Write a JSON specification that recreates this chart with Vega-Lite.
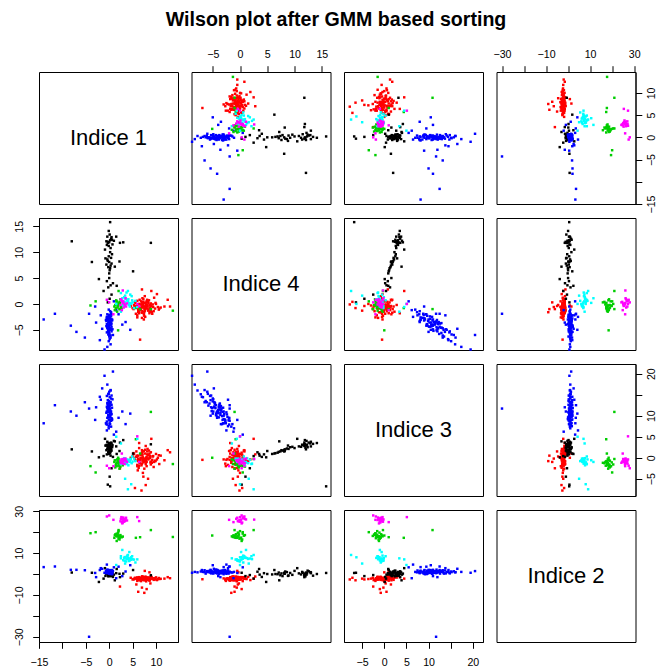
{
"$schema":"https://vega.github.io/schema/vega-lite/v6.json",
"padding":{"left":14,"top":9,"right":0,"bottom":0},
"background":"white",
"title":{"text":"Wilson plot after GMM based sorting","fontSize":19.6,"font":"Liberation Sans","fontWeight":"bold","anchor":"middle","frame":"bounds","offset":19,"color":"#000"},
"columns":4,
"spacing":{"row":14,"column":13.5},
"bounds":"flush",
"resolve":{"scale":{"x":"independent","y":"independent"},"axis":{"x":"independent","y":"independent"}},
"config":{"view":{"stroke":"#000","strokeWidth":1},"font":"Liberation Sans","axis":{"grid":false,"domainColor":"#000","tickColor":"#000","tickSize":6.3,"labelFontSize":10.6,"labelFont":"Liberation Sans","labelColor":"#000","labelOverlap":false,"labelFlush":false},"text":{"font":"Liberation Sans"}},
"data":{"values":[
{"g":"r","a":7.2,"d":-0.5,"c":0.1,"b":-2.0},{"g":"r","a":6.5,"d":-0.9,"c":-0.6,"b":-2.4},{"g":"r","a":8.1,"d":-0.2,"c":0.8,"b":-1.7},{"g":"r","a":7.6,"d":-1.3,"c":-0.2,"b":-2.6},{"g":"r","a":5.9,"d":-0.4,"c":0.5,"b":-1.9},{"g":"r","a":8.8,"d":-0.7,"c":-1.1,"b":-2.2},{"g":"r","a":7.0,"d":0.3,"c":1.2,"b":-1.5},{"g":"r","a":6.2,"d":-1.6,"c":-0.8,"b":-2.8},{"g":"r","a":9.3,"d":-0.1,"c":0.3,"b":-2.1},{"g":"r","a":7.8,"d":-0.8,"c":-1.5,"b":-1.3},
{"g":"r","a":6.8,"d":-1.1,"c":0.9,"b":-2.5},{"g":"r","a":8.4,"d":0.1,"c":-0.4,"b":-1.8},{"g":"r","a":5.4,"d":-0.6,"c":-0.1,"b":-2.3},{"g":"r","a":7.4,"d":-2.0,"c":1.6,"b":-3.0},{"g":"r","a":9.8,"d":-0.9,"c":-0.7,"b":-2.0},{"g":"r","a":6.0,"d":0.6,"c":0.2,"b":-1.6},{"g":"r","a":8.0,"d":-0.3,"c":-2.0,"b":-2.7},{"g":"r","a":7.1,"d":-1.4,"c":0.6,"b":-1.2},{"g":"r","a":10.4,"d":-0.6,"c":0.0,"b":-2.4},{"g":"r","a":6.6,"d":-0.2,"c":-1.3,"b":-2.1},
{"g":"r","a":8.6,"d":-1.8,"c":1.0,"b":-3.2},{"g":"r","a":7.3,"d":0.9,"c":-0.5,"b":-1.9},{"g":"r","a":5.0,"d":-0.8,"c":0.4,"b":-2.6},{"g":"r","a":9.0,"d":-0.4,"c":-0.9,"b":-1.4},{"g":"r","a":7.7,"d":-1.0,"c":1.9,"b":-2.2},{"g":"r","a":6.3,"d":-0.5,"c":-2.4,"b":-2.9},{"g":"r","a":8.3,"d":0.4,"c":0.7,"b":-1.7},{"g":"r","a":7.5,"d":-2.3,"c":-0.3,"b":-2.0},{"g":"r","a":11.0,"d":-0.7,"c":0.5,"b":-2.3},{"g":"r","a":6.9,"d":-0.1,"c":-1.8,"b":-2.5},
{"g":"r","a":8.9,"d":-1.2,"c":1.3,"b":-1.1},{"g":"r","a":5.6,"d":0.2,"c":-0.6,"b":-2.0},{"g":"r","a":7.9,"d":-0.6,"c":0.0,"b":-3.5},{"g":"r","a":9.6,"d":1.2,"c":-1.0,"b":-2.4},{"g":"r","a":6.4,"d":-1.5,"c":2.3,"b":-1.8},{"g":"r","a":8.2,"d":-0.9,"c":-0.2,"b":-2.1},{"g":"r","a":7.0,"d":-2.7,"c":-1.4,"b":-2.7},{"g":"r","a":10.0,"d":0.0,"c":0.9,"b":-1.6},{"g":"r","a":6.1,"d":-0.3,"c":-3.0,"b":-2.2},{"g":"r","a":8.7,"d":-0.8,"c":0.4,"b":-2.9},
{"g":"r","a":7.6,"d":1.5,"c":-0.8,"b":-1.4},{"g":"r","a":5.2,"d":-1.0,"c":1.1,"b":-2.4},{"g":"r","a":9.2,"d":-1.9,"c":-0.5,"b":-2.0},{"g":"r","a":7.3,"d":-0.4,"c":-4.5,"b":-2.6},{"g":"r","a":8.5,"d":0.7,"c":1.7,"b":-1.9},{"g":"r","a":6.7,"d":-1.2,"c":-0.1,"b":-3.1},{"g":"r","a":11.8,"d":-0.5,"c":-0.6,"b":-2.2},{"g":"r","a":7.8,"d":-0.2,"c":2.8,"b":-1.7},{"g":"r","a":6.0,"d":-2.2,"c":-1.7,"b":-2.5},{"g":"r","a":8.0,"d":0.5,"c":0.2,"b":-2.0},
{"g":"r","a":9.5,"d":-1.4,"c":-2.2,"b":-2.8},{"g":"r","a":7.1,"d":-0.7,"c":1.4,"b":-1.3},{"g":"r","a":6.5,"d":0.8,"c":-1.2,"b":-2.3},{"g":"r","a":8.4,"d":-1.1,"c":0.6,"b":-2.7},{"g":"r","a":7.4,"d":-3.0,"c":-0.4,"b":-2.1},{"g":"r","a":4.6,"d":-0.4,"c":0.0,"b":-1.8},{"g":"r","a":10.7,"d":-0.9,"c":-1.5,"b":-2.4},{"g":"r","a":7.7,"d":0.2,"c":-0.9,"b":-2.0},
{"g":"r","a":7.9,"d":-0.1,"c":-0.6,"b":-2.3},{"g":"r","a":6.7,"d":-0.7,"c":0.7,"b":-1.9},{"g":"r","a":8.7,"d":-1.5,"c":-0.1,"b":-2.5},{"g":"r","a":7.3,"d":0.4,"c":-1.1,"b":-1.6},{"g":"r","a":9.4,"d":-0.6,"c":0.4,"b":-2.2},{"g":"r","a":6.2,"d":-1.2,"c":-0.3,"b":-2.7},{"g":"r","a":8.1,"d":0.8,"c":1.5,"b":-2.0},{"g":"r","a":7.5,"d":-0.9,"c":-2.6,"b":-1.8},{"g":"r","a":5.7,"d":-1.9,"c":0.2,"b":-2.1},{"g":"r","a":9.9,"d":0.2,"c":-0.8,"b":-2.6},
{"g":"r","a":7.0,"d":-1.7,"c":1.8,"b":-2.4},{"g":"r","a":8.9,"d":0.1,"c":-1.6,"b":-1.5},{"g":"r","a":6.8,"d":0.5,"c":0.0,"b":-3.4},{"g":"r","a":10.6,"d":-1.1,"c":0.6,"b":-1.9},{"g":"r","a":7.7,"d":-2.5,"c":-0.5,"b":-2.2},{"g":"r","a":6.4,"d":0.0,"c":-1.9,"b":-2.0},{"g":"r","a":8.2,"d":-0.5,"c":2.1,"b":-2.8},{"g":"r","a":7.1,"d":1.1,"c":-0.7,"b":-2.3},{"g":"r","a":9.1,"d":-1.6,"c":-1.2,"b":-1.7},{"g":"r","a":5.3,"d":-0.2,"c":0.9,"b":-2.5},
{"g":"r","a":7.0,"d":-0.6,"c":-0.2,"b":-6.5},{"g":"r","a":6.2,"d":-1.0,"c":0.5,"b":-8.5},{"g":"r","a":8.0,"d":0.3,"c":-1.0,"b":-7.2},{"g":"r","a":5.8,"d":-0.4,"c":1.5,"b":-5.0},{"g":"r","a":7.5,"d":-1.6,"c":-0.8,"b":-9.0},{"g":"r","a":8.8,"d":-0.2,"c":0.3,"b":-4.5},{"g":"r","a":6.6,"d":-6.9,"c":-0.5,"b":-2.5},{"g":"r","a":13.0,"d":-0.5,"c":1.3,"b":-2.0},{"g":"r","a":12.5,"d":0.8,"c":1.8,"b":-1.5},{"g":"r","a":6.9,"d":-0.1,"c":-7.8,"b":-2.6},
{"g":"r","a":7.8,"d":-0.8,"c":-6.5,"b":-3.0},{"g":"r","a":5.5,"d":0.4,"c":-7.2,"b":-1.8},{"g":"r","a":8.3,"d":-1.3,"c":-5.0,"b":-2.2},{"g":"r","a":7.2,"d":0.0,"c":-3.6,"b":-2.4},{"g":"r","a":6.4,"d":-1.8,"c":3.5,"b":-1.5},{"g":"r","a":9.0,"d":2.5,"c":4.5,"b":-2.2},{"g":"r","a":2.3,"d":-1.0,"c":-2.5,"b":-6.0},{"g":"r","a":10.2,"d":1.9,"c":-0.4,"b":-2.9},{"g":"r","a":7.0,"d":2.8,"c":0.8,"b":-1.2},{"g":"r","a":6.0,"d":-2.6,"c":-2.0,"b":-3.3},
{"g":"r","a":8.6,"d":-0.3,"c":0.0,"b":0.8},{"g":"r","a":7.6,"d":-0.5,"c":1.0,"b":1.5},
{"g":"k","a":0.2,"d":12.3,"c":3.1,"b":0.4},{"g":"k","a":-0.3,"d":11.8,"c":2.8,"b":-0.5},{"g":"k","a":0.5,"d":12.9,"c":3.4,"b":0.9},{"g":"k","a":-0.1,"d":11.2,"c":2.6,"b":-0.2},{"g":"k","a":0.4,"d":12.6,"c":3.6,"b":1.3},{"g":"k","a":-0.6,"d":12.1,"c":2.9,"b":0.1},{"g":"k","a":0.1,"d":13.4,"c":3.3,"b":-0.8},{"g":"k","a":0.7,"d":11.5,"c":3.0,"b":0.6},{"g":"k","a":-0.2,"d":12.0,"c":2.4,"b":-1.1},{"g":"k","a":0.3,"d":10.8,"c":2.7,"b":0.3},
{"g":"k","a":-0.4,"d":13.0,"c":3.8,"b":0.8},{"g":"k","a":0.0,"d":11.9,"c":3.2,"b":-0.4},{"g":"k","a":0.6,"d":12.4,"c":2.5,"b":1.6},{"g":"k","a":-0.1,"d":14.1,"c":3.5,"b":0.0},{"g":"k","a":1.0,"d":12.2,"c":4.0,"b":-0.3},{"g":"k","a":-0.5,"d":11.4,"c":3.1,"b":1.0},{"g":"k","a":0.2,"d":15.8,"c":-6.8,"b":0.5},{"g":"k","a":2.3,"d":11.8,"c":3.6,"b":-1.5},{"g":"k","a":3.0,"d":11.9,"c":4.2,"b":0.2},{"g":"k","a":-8.0,"d":12.1,"c":2.0,"b":0.7},
{"g":"k","a":8.9,"d":11.8,"c":3.2,"b":-0.6},{"g":"k","a":1.5,"d":13.0,"c":2.7,"b":0.4},{"g":"k","a":0.0,"d":8.1,"c":1.9,"b":0.2},{"g":"k","a":0.3,"d":7.4,"c":1.5,"b":-0.6},{"g":"k","a":-0.4,"d":8.6,"c":2.2,"b":0.9},{"g":"k","a":0.2,"d":6.9,"c":1.2,"b":-0.1},{"g":"k","a":-0.1,"d":9.2,"c":2.5,"b":0.5},{"g":"k","a":0.5,"d":7.8,"c":1.7,"b":-1.0},{"g":"k","a":-0.3,"d":8.3,"c":2.0,"b":1.2},{"g":"k","a":0.1,"d":6.5,"c":1.1,"b":0.0},
{"g":"k","a":0.6,"d":9.6,"c":2.6,"b":-0.4},{"g":"k","a":-0.2,"d":7.1,"c":1.4,"b":0.7},{"g":"k","a":0.4,"d":8.9,"c":2.1,"b":-0.7},{"g":"k","a":-0.6,"d":7.6,"c":1.8,"b":0.3},{"g":"k","a":0.2,"d":10.0,"c":2.3,"b":1.5},{"g":"k","a":0.0,"d":5.9,"c":0.9,"b":-0.2},{"g":"k","a":2.2,"d":8.2,"c":1.6,"b":0.1},{"g":"k","a":-3.7,"d":8.1,"c":1.5,"b":0.6},{"g":"k","a":5.1,"d":6.3,"c":1.0,"b":1.9},{"g":"k","a":-0.8,"d":8.8,"c":2.9,"b":-0.9},
{"g":"k","a":-0.5,"d":4.4,"c":0.8,"b":0.4},{"g":"k","a":0.3,"d":3.6,"c":0.5,"b":-0.3},{"g":"k","a":-0.2,"d":3.2,"c":1.3,"b":1.1},{"g":"k","a":0.8,"d":4.0,"c":0.2,"b":-1.4},{"g":"k","a":1.6,"d":3.5,"c":0.9,"b":2.4},{"g":"k","a":-1.2,"d":2.5,"c":0.4,"b":-2.2},{"g":"k","a":0.0,"d":5.0,"c":1.6,"b":0.0},{"g":"k","a":-2.2,"d":4.8,"c":0.1,"b":-3.8},{"g":"k","a":1.2,"d":7.2,"c":3.9,"b":-3.0},{"g":"k","a":-0.9,"d":10.5,"c":4.5,"b":2.8},
{"g":"k","a":0.1,"d":1.0,"c":-4.5,"b":-1.0},{"g":"k","a":-0.3,"d":0.3,"c":-6.4,"b":0.6},{"g":"k","a":0.5,"d":1.8,"c":-2.5,"b":-0.5},
{"g":"b","a":0.1,"d":-3.5,"c":11.4,"b":1.1},{"g":"b","a":-0.4,"d":-4.2,"c":9.5,"b":0.6},{"g":"b","a":0.3,"d":-2.9,"c":10.4,"b":1.4},{"g":"b","a":-0.2,"d":-5.1,"c":11.8,"b":0.9},{"g":"b","a":0.5,"d":-3.8,"c":12.6,"b":0.2},{"g":"b","a":-0.1,"d":-2.2,"c":7.5,"b":1.7},{"g":"b","a":0.2,"d":-4.7,"c":13.2,"b":1.0},{"g":"b","a":-0.6,"d":-3.3,"c":8.0,"b":0.4},{"g":"b","a":0.0,"d":-6.0,"c":15.7,"b":1.3},{"g":"b","a":0.4,"d":-1.6,"c":7.4,"b":0.8},
{"g":"b","a":-0.3,"d":-4.4,"c":12.5,"b":1.9},{"g":"b","a":0.6,"d":-3.0,"c":9.2,"b":-0.1},{"g":"b","a":-0.5,"d":-5.5,"c":14.7,"b":0.7},{"g":"b","a":0.1,"d":-2.6,"c":8.2,"b":1.2},{"g":"b","a":0.2,"d":-4.0,"c":10.6,"b":0.5},{"g":"b","a":-0.2,"d":-3.6,"c":10.2,"b":1.5},{"g":"b","a":0.3,"d":-6.5,"c":16.1,"b":0.9},{"g":"b","a":-0.1,"d":-1.1,"c":7.0,"b":1.0},{"g":"b","a":0.7,"d":-4.9,"c":13.9,"b":0.3},{"g":"b","a":-0.7,"d":-3.1,"c":8.2,"b":1.6},
{"g":"b","a":0.0,"d":-5.8,"c":12.4,"b":1.1},{"g":"b","a":0.4,"d":-2.4,"c":10.3,"b":0.6},{"g":"b","a":-0.4,"d":-4.5,"c":11.8,"b":2.1},{"g":"b","a":0.2,"d":-3.9,"c":9.6,"b":0.0},{"g":"b","a":-0.1,"d":-7.2,"c":15.1,"b":1.2},{"g":"b","a":0.5,"d":-2.0,"c":9.4,"b":0.8},{"g":"b","a":-0.2,"d":-5.2,"c":11.1,"b":1.4},{"g":"b","a":0.1,"d":-3.4,"c":11.7,"b":0.4},{"g":"b","a":0.3,"d":-4.1,"c":10.9,"b":1.8},{"g":"b","a":-0.5,"d":-2.7,"c":8.6,"b":0.7},
{"g":"b","a":0.0,"d":-6.3,"c":13.5,"b":0.2},{"g":"b","a":0.2,"d":-3.7,"c":12.9,"b":1.3},{"g":"b","a":-0.3,"d":-4.8,"c":12.0,"b":0.9},{"g":"b","a":0.4,"d":-1.9,"c":8.8,"b":1.1},{"g":"b","a":-0.1,"d":-5.0,"c":13.4,"b":0.5},{"g":"b","a":0.6,"d":-3.2,"c":9.0,"b":1.6},{"g":"b","a":-0.6,"d":-4.3,"c":10.7,"b":1.0},{"g":"b","a":0.1,"d":-2.5,"c":10.8,"b":0.1},{"g":"b","a":0.0,"d":-5.6,"c":12.9,"b":1.5},{"g":"b","a":-0.2,"d":-3.0,"c":10.0,"b":0.9},
{"g":"b","a":0.3,"d":-7.8,"c":16.0,"b":0.8},{"g":"b","a":-0.4,"d":-4.6,"c":13.0,"b":1.2},{"g":"b","a":0.2,"d":-3.5,"c":11.2,"b":0.6},{"g":"b","a":-0.1,"d":-2.8,"c":9.1,"b":1.9},{"g":"b","a":0.5,"d":-5.3,"c":14.8,"b":0.3},{"g":"b","a":-0.3,"d":-4.0,"c":11.4,"b":1.4},{"g":"b","a":0.1,"d":-6.8,"c":14.4,"b":1.0},{"g":"b","a":0.2,"d":-1.4,"c":8.0,"b":0.7},{"g":"b","a":-0.5,"d":-3.9,"c":12.1,"b":1.2},{"g":"b","a":0.4,"d":-4.9,"c":11.0,"b":0.4},
{"g":"b","a":0.0,"d":-2.3,"c":9.7,"b":1.6},{"g":"b","a":-0.2,"d":-5.9,"c":15.2,"b":0.9},{"g":"b","a":0.3,"d":-3.6,"c":10.6,"b":1.1},{"g":"b","a":-0.1,"d":-4.4,"c":10.1,"b":0.5},{"g":"b","a":0.6,"d":-3.1,"c":11.9,"b":1.3},{"g":"b","a":-0.4,"d":-8.3,"c":17.4,"b":1.0},{"g":"b","a":0.1,"d":-2.1,"c":8.9,"b":0.2},{"g":"b","a":-0.3,"d":-5.4,"c":13.7,"b":1.7},{"g":"b","a":0.2,"d":-3.3,"c":9.9,"b":0.8},{"g":"b","a":0.0,"d":-4.7,"c":12.2,"b":1.0},
{"g":"b","a":0.2,"d":-3.8,"c":11.5,"b":0.8},{"g":"b","a":-0.3,"d":-4.6,"c":12.8,"b":1.2},{"g":"b","a":0.1,"d":-2.7,"c":8.9,"b":0.6},{"g":"b","a":0.4,"d":-5.0,"c":14.1,"b":1.0},{"g":"b","a":-0.2,"d":-3.2,"c":10.9,"b":1.5},{"g":"b","a":0.0,"d":-4.2,"c":9.8,"b":0.3},{"g":"b","a":0.3,"d":-6.1,"c":13.2,"b":1.1},{"g":"b","a":-0.4,"d":-2.0,"c":7.9,"b":0.9},{"g":"b","a":0.1,"d":-3.5,"c":12.3,"b":1.4},{"g":"b","a":-0.1,"d":-5.3,"c":12.0,"b":0.7},{"g":"b","a":0.5,"d":-4.4,"c":10.4,"b":1.9},{"g":"b","a":-0.5,"d":-3.0,"c":11.0,"b":0.5},
{"g":"b","a":-14.0,"d":-3.0,"c":8.2,"b":3.3},{"g":"b","a":-11.6,"d":-1.9,"c":12.5,"b":3.6},{"g":"b","a":-8.2,"d":-4.2,"c":11.0,"b":2.0},{"g":"b","a":-7.0,"d":-5.4,"c":10.0,"b":2.0},{"g":"b","a":-4.3,"d":-1.9,"c":11.7,"b":-30.0},{"g":"b","a":-5.2,"d":-6.5,"c":13.2,"b":1.8},{"g":"b","a":-3.0,"d":-0.5,"c":9.0,"b":0.5},{"g":"b","a":-2.8,"d":-3.6,"c":12.0,"b":-1.5},{"g":"b","a":-2.0,"d":-7.0,"c":14.5,"b":1.9},{"g":"b","a":2.0,"d":-2.0,"c":9.5,"b":3.5},
{"g":"b","a":3.5,"d":-3.5,"c":8.0,"b":1.2},{"g":"b","a":4.5,"d":-5.0,"c":10.5,"b":4.2},{"g":"b","a":1.5,"d":-1.2,"c":6.2,"b":-2.0},{"g":"b","a":-1.5,"d":-4.8,"c":16.5,"b":2.5},{"g":"b","a":1.0,"d":0.5,"c":5.5,"b":3.2},{"g":"b","a":-1.0,"d":-8.8,"c":19.5,"b":0.6},{"g":"b","a":0.8,"d":-6.0,"c":20.5,"b":1.4},{"g":"b","a":-0.5,"d":-2.5,"c":6.5,"b":4.5},{"g":"b","a":2.8,"d":-4.0,"c":11.0,"b":-1.0},{"g":"b","a":-1.8,"d":-2.2,"c":13.8,"b":2.8},
{"g":"g","a":1.8,"d":-0.3,"c":-1.2,"b":18.1},{"g":"g","a":2.3,"d":0.2,"c":-0.8,"b":17.4},{"g":"g","a":1.4,"d":-0.8,"c":-1.7,"b":18.8},{"g":"g","a":2.0,"d":-0.1,"c":-1.0,"b":16.9},{"g":"g","a":1.6,"d":0.5,"c":-2.0,"b":19.3},{"g":"g","a":2.5,"d":-0.6,"c":-1.4,"b":17.8},{"g":"g","a":1.2,"d":-1.2,"c":-0.6,"b":18.5},{"g":"g","a":2.1,"d":0.1,"c":-1.9,"b":17.1},{"g":"g","a":1.9,"d":-0.4,"c":-1.1,"b":19.8},{"g":"g","a":1.5,"d":0.7,"c":-1.5,"b":18.3},
{"g":"g","a":2.7,"d":-0.9,"c":-0.9,"b":17.6},{"g":"g","a":1.3,"d":-0.2,"c":-2.3,"b":18.9},{"g":"g","a":2.2,"d":0.4,"c":-1.3,"b":16.5},{"g":"g","a":1.7,"d":-1.5,"c":-0.4,"b":18.0},{"g":"g","a":2.0,"d":0.0,"c":-1.6,"b":20.5},{"g":"g","a":1.1,"d":-0.5,"c":-1.0,"b":17.3},{"g":"g","a":2.4,"d":0.9,"c":-2.1,"b":18.6},{"g":"g","a":1.8,"d":-0.7,"c":-0.7,"b":19.0},{"g":"g","a":2.9,"d":-0.3,"c":-1.8,"b":17.9},{"g":"g","a":1.6,"d":0.3,"c":-1.2,"b":15.8},
{"g":"g","a":2.2,"d":-1.0,"c":-2.6,"b":18.2},{"g":"g","a":2.0,"d":2.5,"c":-0.3,"b":21.0},{"g":"g","a":-4.0,"d":-0.3,"c":-2.0,"b":19.5},{"g":"g","a":13.6,"d":-1.3,"c":-1.5,"b":17.7},{"g":"g","a":5.7,"d":-0.8,"c":4.4,"b":17.3},{"g":"g","a":6.6,"d":-1.0,"c":1.0,"b":17.6},{"g":"g","a":-2.9,"d":0.5,"c":-3.5,"b":20.0},{"g":"g","a":1.9,"d":-5.1,"c":0.0,"b":18.4},{"g":"g","a":8.9,"d":-1.0,"c":10.9,"b":21.0},
{"g":"c","a":4.0,"d":0.5,"c":-0.8,"b":7.3},{"g":"c","a":4.6,"d":0.1,"c":-0.3,"b":6.8},{"g":"c","a":3.5,"d":1.0,"c":-1.2,"b":7.9},{"g":"c","a":4.2,"d":-0.2,"c":-0.6,"b":6.2},{"g":"c","a":3.8,"d":0.8,"c":-1.5,"b":8.4},{"g":"c","a":5.0,"d":0.3,"c":-0.9,"b":7.0},{"g":"c","a":3.2,"d":1.3,"c":-0.1,"b":7.6},{"g":"c","a":4.4,"d":-0.5,"c":-1.0,"b":6.5},{"g":"c","a":3.9,"d":0.6,"c":-0.4,"b":8.8},{"g":"c","a":4.8,"d":1.5,"c":-1.3,"b":7.2},
{"g":"c","a":3.6,"d":0.0,"c":-0.7,"b":6.0},{"g":"c","a":4.1,"d":0.9,"c":-1.8,"b":7.7},{"g":"c","a":5.3,"d":-0.8,"c":-0.2,"b":6.9},{"g":"c","a":3.3,"d":0.4,"c":-1.1,"b":8.1},{"g":"c","a":4.5,"d":1.8,"c":-0.5,"b":7.4},{"g":"c","a":3.0,"d":-0.3,"c":-0.9,"b":6.6},{"g":"c","a":4.9,"d":0.7,"c":0.3,"b":8.5},{"g":"c","a":3.7,"d":2.2,"c":-1.4,"b":7.1},{"g":"c","a":4.3,"d":0.2,"c":-0.6,"b":10.5},{"g":"c","a":2.8,"d":1.1,"c":-1.0,"b":11.5},
{"g":"c","a":5.6,"d":0.6,"c":-0.8,"b":5.5},{"g":"c","a":2.5,"d":-1.5,"c":3.4,"b":7.5},{"g":"c","a":4.0,"d":2.5,"c":-7.5,"b":9.1},{"g":"c","a":6.0,"d":-0.6,"c":4.5,"b":7.0},{"g":"c","a":3.4,"d":1.6,"c":-5.0,"b":5.0},{"g":"c","a":4.7,"d":0.0,"c":-6.3,"b":8.0},{"g":"c","a":2.5,"d":2.1,"c":-1.5,"b":8.5},{"g":"c","a":3.3,"d":-0.4,"c":-0.2,"b":6.3},{"g":"c","a":1.5,"d":0.0,"c":5.0,"b":4.3},
{"g":"m","a":3.0,"d":0.2,"c":-0.8,"b":26.0},{"g":"m","a":3.4,"d":-0.3,"c":-0.5,"b":25.4},{"g":"m","a":2.7,"d":0.6,"c":-1.1,"b":26.6},{"g":"m","a":3.2,"d":0.0,"c":-0.3,"b":25.0},{"g":"m","a":2.5,"d":0.9,"c":-1.3,"b":26.3},{"g":"m","a":3.6,"d":-0.5,"c":-0.7,"b":26.9},{"g":"m","a":2.9,"d":0.4,"c":-0.9,"b":24.6},{"g":"m","a":3.3,"d":-0.1,"c":-1.5,"b":25.8},{"g":"m","a":2.6,"d":0.7,"c":-0.4,"b":27.2},{"g":"m","a":3.8,"d":0.1,"c":-1.0,"b":25.6},
{"g":"m","a":3.1,"d":-0.7,"c":-0.6,"b":26.4},{"g":"m","a":2.8,"d":0.3,"c":-1.2,"b":24.2},{"g":"m","a":3.5,"d":1.1,"c":-0.2,"b":26.1},{"g":"m","a":2.4,"d":-0.2,"c":-0.8,"b":25.2},{"g":"m","a":3.0,"d":0.5,"c":-1.4,"b":27.0},{"g":"m","a":0.0,"d":0.3,"c":-2.5,"b":28.0},{"g":"m","a":-0.5,"d":0.8,"c":-1.9,"b":27.5},{"g":"m","a":6.0,"d":0.0,"c":5.1,"b":27.2},{"g":"m","a":6.4,"d":-0.4,"c":-1.0,"b":25.3},{"g":"m","a":2.9,"d":2.6,"c":-0.3,"b":26.0},
{"g":"m","a":2.7,"d":-1.2,"c":1.0,"b":24.8},{"g":"m","a":0.9,"d":-2.0,"c":-2.0,"b":25.9}
]},
"concat":[
{"width":139,"height":132,"data":{"values":[{"t":"Indice 1"}]},"mark":{"type":"text","fontSize":22,"color":"#000","baseline":"middle","align":"center"},"encoding":{"text":{"field":"t"},"x":{"datum":0.5,"type":"quantitative","scale":{"domain":[0,1]},"axis":null},"y":{"datum":0.5,"type":"quantitative","scale":{"domain":[0,1]},"axis":null}}},
{"width":139,"height":132,"mark":{"type":"square","size":6,"opacity":1},"encoding":{
 "x":{"field":"d","type":"quantitative","scale":{"domain":[-8.9,16.6],"nice":false,"zero":false},"axis":{"orient":"top","values":[-5,0,5,10,15],"title":null,"labelPadding":6}},
 "y":{"field":"a","type":"quantitative","scale":{"domain":[-15,14.7],"nice":false,"zero":false},"axis":null},
 "color":{"field":"g","type":"nominal","scale":{"domain":["k","b","r","g","c","m"],"range":["#000000","#0000FF","#FF0000","#00CD00","#00FFFF","#FF00FF"]},"legend":null}}},
{"width":139,"height":132,"mark":{"type":"square","size":6,"opacity":1},"encoding":{
 "x":{"field":"c","type":"quantitative","scale":{"domain":[-9.1,22.3],"nice":false,"zero":false},"axis":null},
 "y":{"field":"a","type":"quantitative","scale":{"domain":[-15,14.7],"nice":false,"zero":false},"axis":null},
 "color":{"field":"g","type":"nominal","scale":{"domain":["k","b","r","g","c","m"],"range":["#000000","#0000FF","#FF0000","#00CD00","#00FFFF","#FF00FF"]},"legend":null}}},
{"width":139,"height":132,"mark":{"type":"square","size":6,"opacity":1},"encoding":{
 "x":{"field":"b","type":"quantitative","scale":{"domain":[-32.5,30.6],"nice":false,"zero":false},"axis":{"orient":"top","values":[-30,-20,-10,0,10,20,30],"labelExpr":"datum.value % 20 == 0 ? '' : datum.label","title":null,"labelPadding":6}},
 "y":{"field":"a","type":"quantitative","scale":{"domain":[-15,14.7],"nice":false,"zero":false},"axis":{"orient":"right","values":[-15,-10,-5,0,5,10],"labelExpr":"datum.value == -10 ? '' : datum.label","labelAngle":-90,"labelAlign":"center","labelBaseline":"top","title":null,"labelPadding":5}},
 "color":{"field":"g","type":"nominal","scale":{"domain":["k","b","r","g","c","m"],"range":["#000000","#0000FF","#FF0000","#00CD00","#00FFFF","#FF00FF"]},"legend":null}}},
{"width":139,"height":132,"mark":{"type":"square","size":6,"opacity":1},"encoding":{
 "x":{"field":"a","type":"quantitative","scale":{"domain":[-15,14.7],"nice":false,"zero":false},"axis":null},
 "y":{"field":"d","type":"quantitative","scale":{"domain":[-8.9,16.6],"nice":false,"zero":false},"axis":{"orient":"left","values":[-5,0,5,10,15],"labelAngle":-90,"labelAlign":"center","labelBaseline":"bottom","title":null,"labelPadding":8}},
 "color":{"field":"g","type":"nominal","scale":{"domain":["k","b","r","g","c","m"],"range":["#000000","#0000FF","#FF0000","#00CD00","#00FFFF","#FF00FF"]},"legend":null}}},
{"width":139,"height":132,"data":{"values":[{"t":"Indice 4"}]},"mark":{"type":"text","fontSize":22,"color":"#000","baseline":"middle","align":"center"},"encoding":{"text":{"field":"t"},"x":{"datum":0.5,"type":"quantitative","scale":{"domain":[0,1]},"axis":null},"y":{"datum":0.5,"type":"quantitative","scale":{"domain":[0,1]},"axis":null}}},
{"width":139,"height":132,"mark":{"type":"square","size":6,"opacity":1},"encoding":{
 "x":{"field":"c","type":"quantitative","scale":{"domain":[-9.1,22.3],"nice":false,"zero":false},"axis":null},
 "y":{"field":"d","type":"quantitative","scale":{"domain":[-8.9,16.6],"nice":false,"zero":false},"axis":null},
 "color":{"field":"g","type":"nominal","scale":{"domain":["k","b","r","g","c","m"],"range":["#000000","#0000FF","#FF0000","#00CD00","#00FFFF","#FF00FF"]},"legend":null}}},
{"width":139,"height":132,"mark":{"type":"square","size":6,"opacity":1},"encoding":{
 "x":{"field":"b","type":"quantitative","scale":{"domain":[-32.5,30.6],"nice":false,"zero":false},"axis":null},
 "y":{"field":"d","type":"quantitative","scale":{"domain":[-8.9,16.6],"nice":false,"zero":false},"axis":null},
 "color":{"field":"g","type":"nominal","scale":{"domain":["k","b","r","g","c","m"],"range":["#000000","#0000FF","#FF0000","#00CD00","#00FFFF","#FF00FF"]},"legend":null}}},
{"width":139,"height":132,"mark":{"type":"square","size":6,"opacity":1},"encoding":{
 "x":{"field":"a","type":"quantitative","scale":{"domain":[-15,14.7],"nice":false,"zero":false},"axis":null},
 "y":{"field":"c","type":"quantitative","scale":{"domain":[-9.1,22.3],"nice":false,"zero":false},"axis":null},
 "color":{"field":"g","type":"nominal","scale":{"domain":["k","b","r","g","c","m"],"range":["#000000","#0000FF","#FF0000","#00CD00","#00FFFF","#FF00FF"]},"legend":null}}},
{"width":139,"height":132,"mark":{"type":"square","size":6,"opacity":1},"encoding":{
 "x":{"field":"d","type":"quantitative","scale":{"domain":[-8.9,16.6],"nice":false,"zero":false},"axis":null},
 "y":{"field":"c","type":"quantitative","scale":{"domain":[-9.1,22.3],"nice":false,"zero":false},"axis":null},
 "color":{"field":"g","type":"nominal","scale":{"domain":["k","b","r","g","c","m"],"range":["#000000","#0000FF","#FF0000","#00CD00","#00FFFF","#FF00FF"]},"legend":null}}},
{"width":139,"height":132,"data":{"values":[{"t":"Indice 3"}]},"mark":{"type":"text","fontSize":22,"color":"#000","baseline":"middle","align":"center"},"encoding":{"text":{"field":"t"},"x":{"datum":0.5,"type":"quantitative","scale":{"domain":[0,1]},"axis":null},"y":{"datum":0.5,"type":"quantitative","scale":{"domain":[0,1]},"axis":null}}},
{"width":139,"height":132,"mark":{"type":"square","size":6,"opacity":1},"encoding":{
 "x":{"field":"b","type":"quantitative","scale":{"domain":[-32.5,30.6],"nice":false,"zero":false},"axis":null},
 "y":{"field":"c","type":"quantitative","scale":{"domain":[-9.1,22.3],"nice":false,"zero":false},"axis":{"orient":"right","values":[-5,0,5,10,15,20],"labelExpr":"datum.value == 15 ? '' : datum.label","labelAngle":-90,"labelAlign":"center","labelBaseline":"top","title":null,"labelPadding":5}},
 "color":{"field":"g","type":"nominal","scale":{"domain":["k","b","r","g","c","m"],"range":["#000000","#0000FF","#FF0000","#00CD00","#00FFFF","#FF00FF"]},"legend":null}}},
{"width":139,"height":132,"mark":{"type":"square","size":6,"opacity":1},"encoding":{
 "x":{"field":"a","type":"quantitative","scale":{"domain":[-15,14.7],"nice":false,"zero":false},"axis":{"orient":"bottom","values":[-15,-10,-5,0,5,10],"labelExpr":"datum.value == -10 ? '' : datum.label","title":null,"labelPadding":9.5}},
 "y":{"field":"b","type":"quantitative","scale":{"domain":[-32.5,30.6],"nice":false,"zero":false},"axis":{"orient":"left","values":[-30,-20,-10,0,10,20,30],"labelExpr":"datum.value % 20 == 0 ? '' : datum.label","labelAngle":-90,"labelAlign":"center","labelBaseline":"bottom","title":null,"labelPadding":8}},
 "color":{"field":"g","type":"nominal","scale":{"domain":["k","b","r","g","c","m"],"range":["#000000","#0000FF","#FF0000","#00CD00","#00FFFF","#FF00FF"]},"legend":null}}},
{"width":139,"height":132,"mark":{"type":"square","size":6,"opacity":1},"encoding":{
 "x":{"field":"d","type":"quantitative","scale":{"domain":[-8.9,16.6],"nice":false,"zero":false},"axis":null},
 "y":{"field":"b","type":"quantitative","scale":{"domain":[-32.5,30.6],"nice":false,"zero":false},"axis":null},
 "color":{"field":"g","type":"nominal","scale":{"domain":["k","b","r","g","c","m"],"range":["#000000","#0000FF","#FF0000","#00CD00","#00FFFF","#FF00FF"]},"legend":null}}},
{"width":139,"height":132,"mark":{"type":"square","size":6,"opacity":1},"encoding":{
 "x":{"field":"c","type":"quantitative","scale":{"domain":[-9.1,22.3],"nice":false,"zero":false},"axis":{"orient":"bottom","values":[-5,0,5,10,15,20],"labelExpr":"datum.value == 15 ? '' : datum.label","title":null,"labelPadding":9.5}},
 "y":{"field":"b","type":"quantitative","scale":{"domain":[-32.5,30.6],"nice":false,"zero":false},"axis":null},
 "color":{"field":"g","type":"nominal","scale":{"domain":["k","b","r","g","c","m"],"range":["#000000","#0000FF","#FF0000","#00CD00","#00FFFF","#FF00FF"]},"legend":null}}},
{"width":139,"height":132,"data":{"values":[{"t":"Indice 2"}]},"mark":{"type":"text","fontSize":22,"color":"#000","baseline":"middle","align":"center"},"encoding":{"text":{"field":"t"},"x":{"datum":0.5,"type":"quantitative","scale":{"domain":[0,1]},"axis":null},"y":{"datum":0.5,"type":"quantitative","scale":{"domain":[0,1]},"axis":null}}}
]
}
